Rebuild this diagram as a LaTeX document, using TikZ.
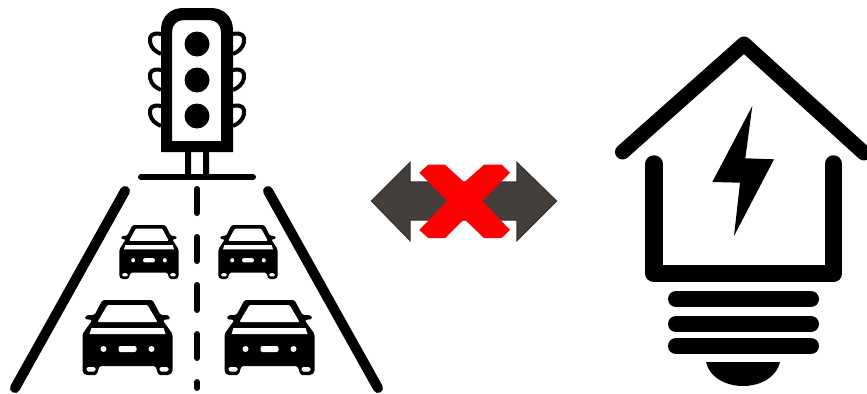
\documentclass[tikz,border=0pt]{standalone}
\definecolor{arrowgrey}{HTML}{453F3C}
\definecolor{arrowedge}{HTML}{333333}
\definecolor{crossred}{HTML}{FF0000}
\tikzset{
  lw/.style={line width=#1*0.75pt},
  ink/.style={draw=black,line cap=round,line join=round},
  ear/.style={draw=black,lw=4,line join=round},
  car/.pic={
    \fill[black,rounded corners=1.2pt]
      (-25,0) -- (25,0) -- (33,15) -- (41,15) -- (43,19) -- (35,20) -- (38,24)
      -- (45,34) -- (45,72) -- (42,75) -- (31,75) -- (28,66) -- (-28,66) -- (-31,75)
      -- (-42,75) -- (-45,72) -- (-45,34) -- (-38,24) -- (-35,20) -- (-43,19) -- (-41,15)
      -- (-33,15) -- cycle;
    \fill[white,rounded corners=0.8pt] (-20,5) -- (20,5) -- (30,22) -- (-30,22) -- cycle;
    \fill[white] (-36,28) -- (36,28) -- (38,34) -- (-38,34) -- cycle;
    \fill[white] (-24,49) circle[radius=3] (24,49) circle[radius=3];
    \fill[white,rounded corners=1.5pt] (-9,46) rectangle (9,52);
    \fill[white,rounded corners=1.2pt] (-41,67) rectangle (-32,71.5);
    \fill[white,rounded corners=1.2pt] (32,67) rectangle (41,71.5);
  }
}
\begin{document}
\begin{tikzpicture}[x=0.75pt,y=-0.75pt]
\useasboundingbox (0,0) rectangle (867,393);
\clip (0,0) rectangle (867,393);
% traffic light
\fill[black,even odd rule]
  (161,152) -- (161,30) .. controls (161,17) and (170,8) .. (183,8) -- (211,8)
  .. controls (224,8) and (233,17) .. (233,30) -- (233,152) -- cycle
  (172,141) -- (172,32) .. controls (172,25) and (177,20) .. (184,20) -- (209,20)
  .. controls (216,20) and (221,25) .. (221,32) -- (221,141) -- cycle;
\foreach \y in {44,80,116}{
  \fill[black] (197,\y) circle[radius=12.5];
  \draw[ear] (161,\y-10) .. controls (152,\y-12) and (149,\y-8) .. (150,\y-2)
    .. controls (151,\y+4) and (156,\y+8) .. (161,\y+10);
  \draw[ear] (233,\y-10) .. controls (242,\y-12) and (245,\y-8) .. (244,\y-2)
    .. controls (243,\y+4) and (238,\y+8) .. (233,\y+10);
}
\fill[black] (185,152) rectangle (191,174) (203,152) rectangle (209,174);
\draw[ink,lw=6] (141,177) -- (253,177);
% road
\draw[ink,lw=10] (125,191) -- (15,388);
\draw[ink,lw=10] (268,191) -- (378,388);
\foreach \a/\b in {189/213,237/261,285/310,334/358,382/388}{
  \draw[ink,lw=6] (197,\a) -- (197,\b);
}
% cars
\pic[shift={(127.5,300)}] {car};
\pic[shift={(269.5,300)}] {car};
\pic[shift={(149,225)},xscale=0.66,yscale=0.72] {car};
\pic[shift={(248,225)},xscale=0.66,yscale=0.72] {car};
% double arrow
\draw[draw=arrowedge,fill=arrowgrey,lw=1.2,line join=miter]
  (371.5,201) -- (410,162.5) -- (410,182) -- (517,182) -- (517,162.5) -- (556.5,201)
  -- (517,240.5) -- (517,220) -- (410,220) -- (410,240.5) -- cycle;
% red cross
\fill[crossred]
  (419.3,172.7) -- (428.3,164.7) -- (445,164.7) -- (464.3,182.3) -- (484,164.7)
  -- (501.7,164.7) -- (510,172.7) -- (482.3,201) -- (510,230) -- (501.7,238)
  -- (484,238) -- (464.3,219) -- (445,238) -- (428.3,238) -- (419.3,230) -- (447.3,201) -- cycle;
% house
\draw[ink,lw=15] (622.5,152) -- (744,44) -- (864,153);
\draw[ink,lw=17.5] (654,164) -- (654,273.5) -- (833.5,273.5) -- (833.5,164);
\fill[black] (752.3,106) -- (745.3,158.3) -- (774,159.3) -- (734,236) -- (740,182.7) -- (712.3,182) -- cycle;
\draw[ink,lw=16] (676,299) -- (811,299);
\draw[ink,lw=16] (676,324) -- (811,324);
\draw[ink,lw=16] (676,346) -- (811,346);
\fill[black] (706,362) -- (780,362) .. controls (777,376) and (762,386) .. (743,386)
  .. controls (724,386) and (709,376) .. (706,362) -- cycle;
\end{tikzpicture}
\end{document}
